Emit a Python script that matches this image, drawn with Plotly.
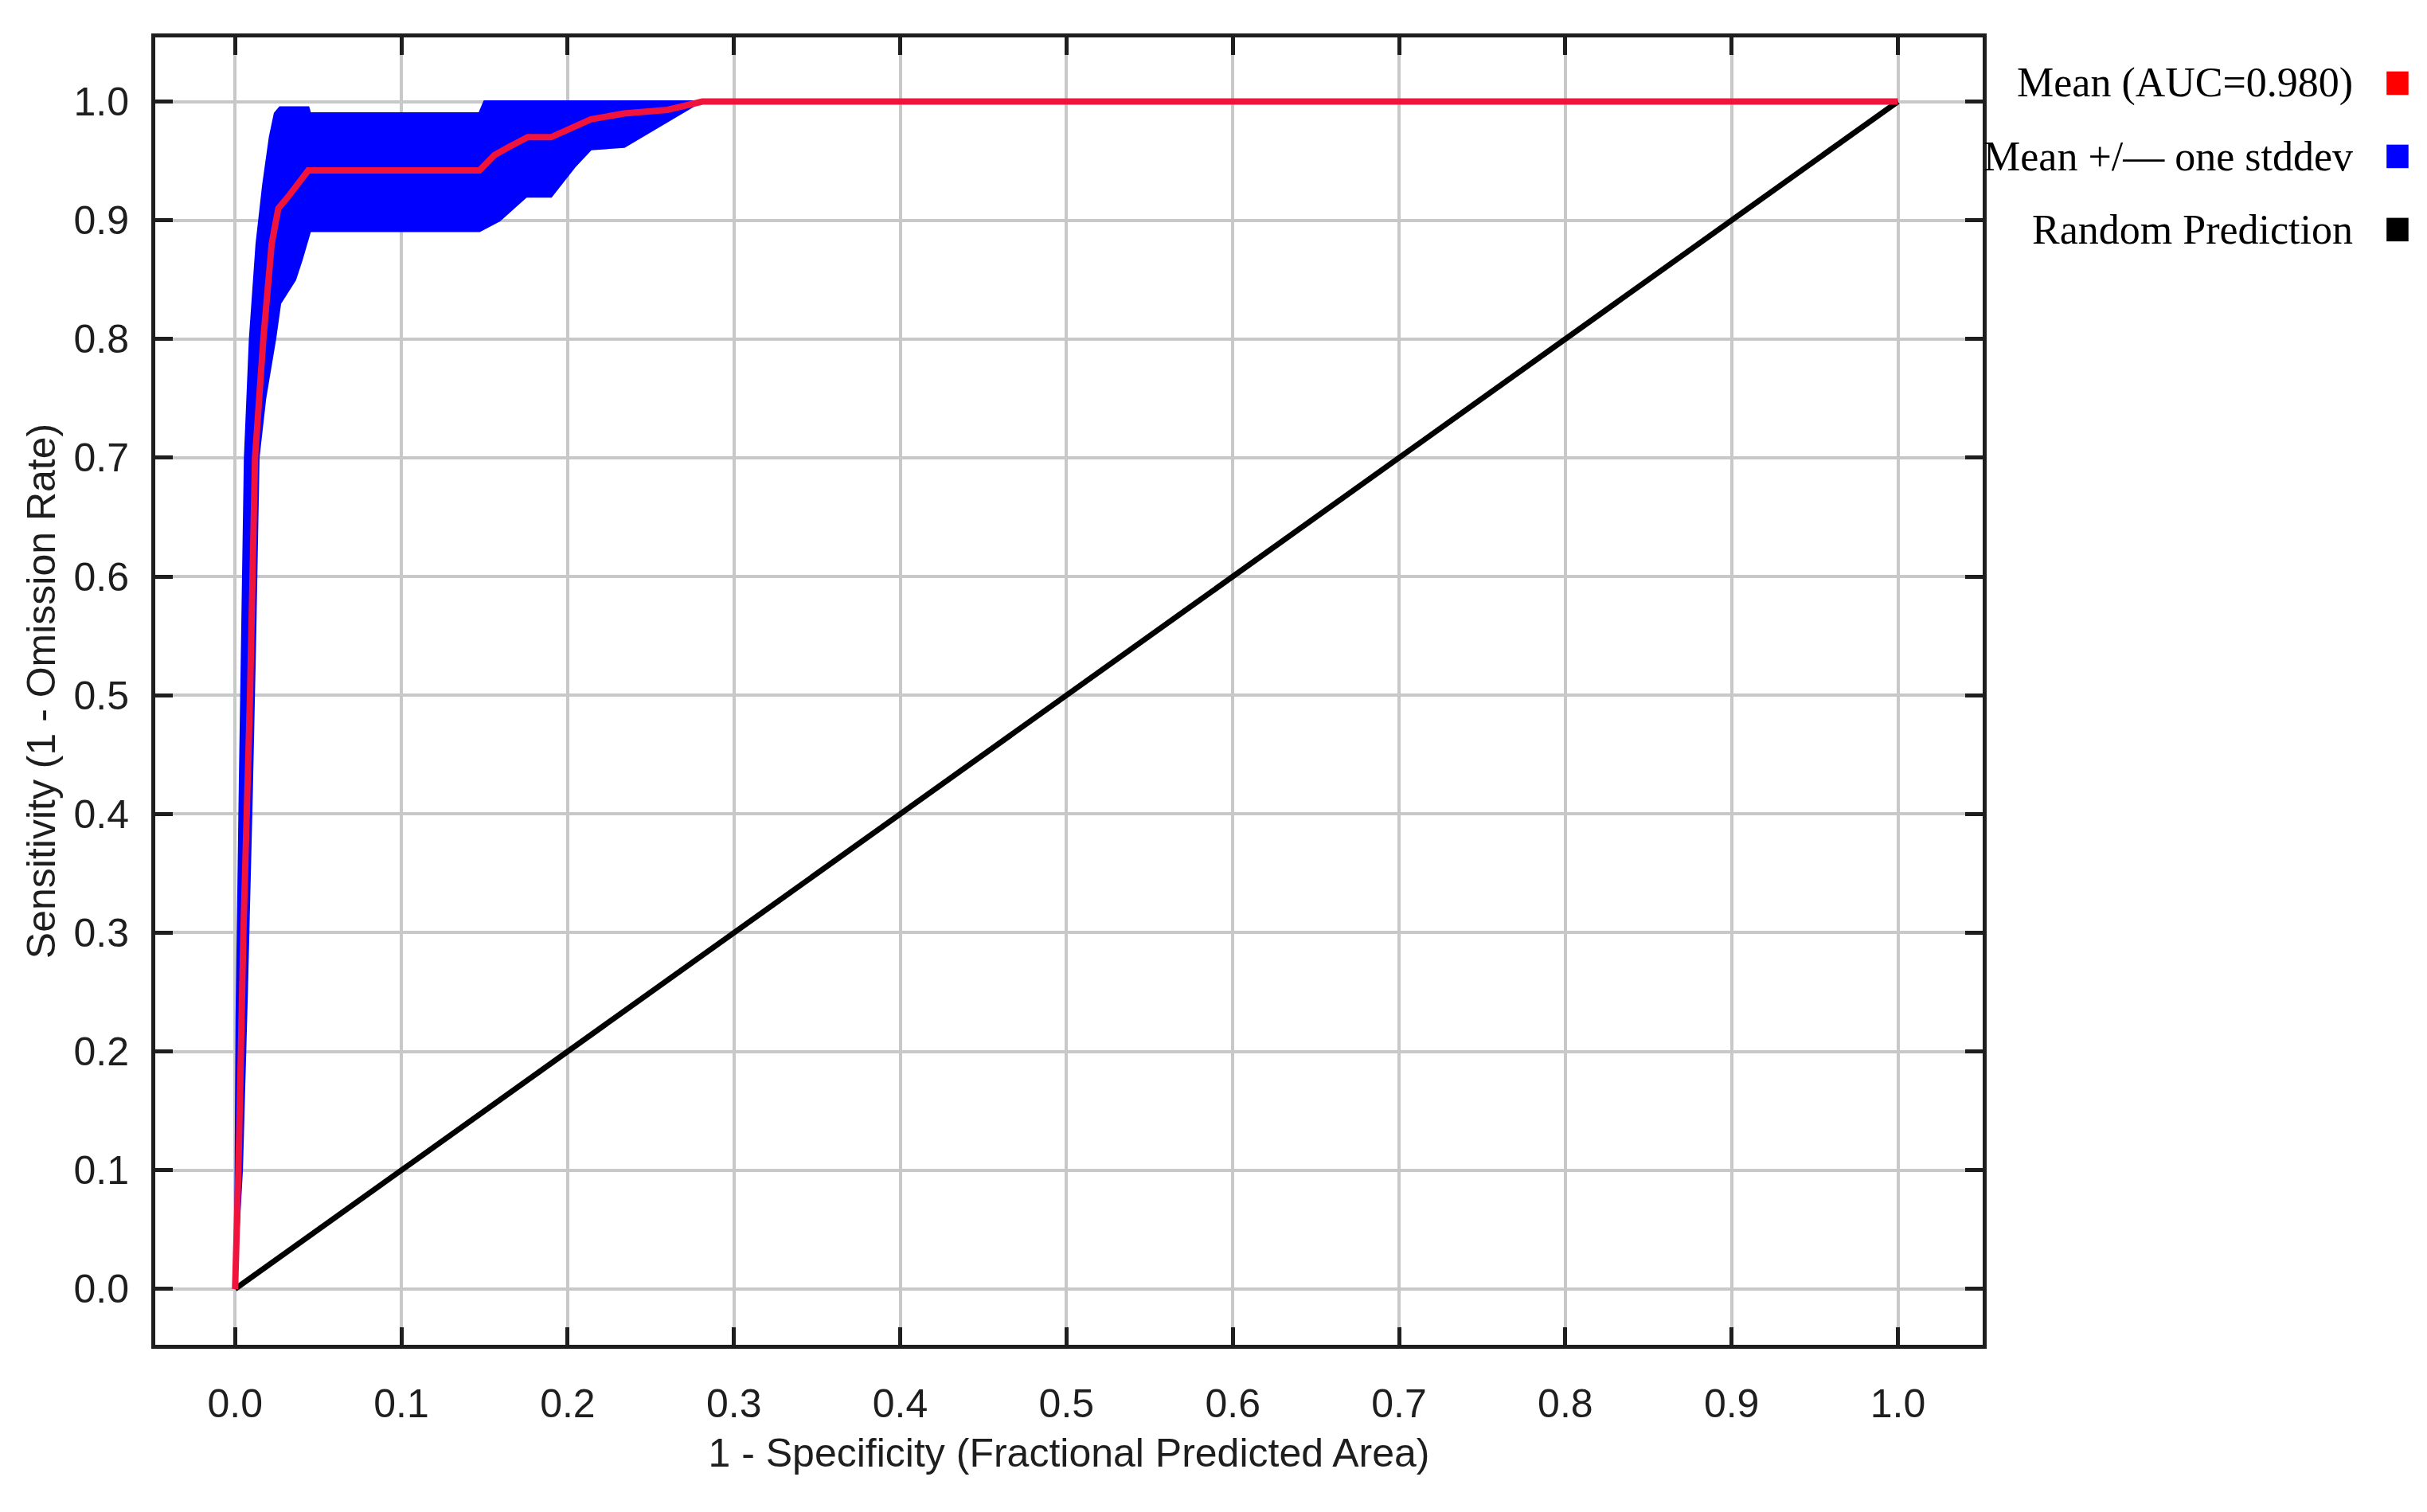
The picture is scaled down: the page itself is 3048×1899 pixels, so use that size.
import plotly.graph_objects as go

mean_x = [0, 0.002, 0.005, 0.009, 0.012, 0.017, 0.022, 0.026, 0.032, 0.038, 0.044, 0.147, 0.156, 0.165, 0.176, 0.19, 0.214, 0.234, 0.26, 0.281, 1.0]
mean_y = [0, 0.1, 0.3, 0.5, 0.7, 0.8, 0.88, 0.91, 0.92, 0.93, 0.942, 0.942, 0.955, 0.962, 0.97, 0.97, 0.985, 0.99, 0.993, 1.0, 1.0]

upper_x = [0, 0.001, 0.003, 0.005, 0.006, 0.009, 0.013, 0.017, 0.021, 0.024, 0.027, 0.044, 0.045, 0.147, 0.150, 1.0]
upper_y = [0, 0.23, 0.43, 0.6, 0.7, 0.8, 0.88, 0.93, 0.97, 0.99, 0.995, 0.995, 0.99, 0.99, 1.0, 1.0]

lower_x = [0, 0.004, 0.007, 0.010, 0.012, 0.014, 0.018, 0.024, 0.027, 0.036, 0.040, 0.045, 0.147, 0.159, 0.175, 0.19, 0.204, 0.214, 0.234, 0.28, 1.0]
lower_y = [0, 0.1, 0.25, 0.42, 0.55, 0.7, 0.75, 0.8, 0.83, 0.85, 0.867, 0.891, 0.891, 0.9, 0.92, 0.92, 0.945, 0.96, 0.962, 1.0, 1.0]

rand_x = [0, 1]
rand_y = [0, 1]

ticks = [round(i * 0.1, 1) for i in range(11)]
tick_text = [f"{t:.1f}" for t in ticks]

legend_labels = ["Mean (AUC=0.980)", "Mean +/\u2014 one stddev", "Random Prediction"]
legend_colors = ["rgb(255,0,0)", "rgb(0,0,255)", "rgb(0,0,0)"]

fig = go.Figure()
fig.add_trace(go.Scatter(x=upper_x + lower_x[::-1], y=upper_y + lower_y[::-1], fill="toself",
                         fillcolor="rgb(0,0,255)", line=dict(color="rgb(0,0,255)", width=3),
                         mode="lines", showlegend=False))
fig.add_trace(go.Scatter(x=rand_x, y=rand_y, mode="lines", line=dict(color="black", width=7), showlegend=False))
fig.add_trace(go.Scatter(x=mean_x, y=mean_y, mode="lines", line=dict(color="rgb(240,20,60)", width=8), showlegend=False))

axis_common = dict(showline=True, linecolor="rgb(30,30,30)", linewidth=5, mirror="ticks",
                   ticks="inside", ticklen=22, tickwidth=5, tickcolor="rgb(30,30,30)",
                   showgrid=True, gridcolor="rgb(200,200,200)", gridwidth=4, zeroline=False,
                   tickvals=ticks, ticktext=tick_text,
                   tickfont=dict(family="Liberation Sans", size=50, color="rgb(30,30,30)"))
fig.update_xaxes(**axis_common, range=[-0.048, 1.051], ticklabelstandoff=26,
                 title=dict(text="1 - Specificity (Fractional Predicted Area)",
                            font=dict(family="Liberation Sans", size=50, color="rgb(30,30,30)"), standoff=18))
fig.update_yaxes(**axis_common, range=[-0.047, 1.054], ticklabelstandoff=18,
                 title=dict(text="Sensitivity (1 - Omission Rate)",
                            font=dict(family="Liberation Sans", size=50, color="rgb(30,30,30)"), standoff=8))

for i, (lab, col) in enumerate(zip(legend_labels, legend_colors)):
    yy = 0.965 - i * 0.056
    fig.add_annotation(xref="paper", yref="paper", x=1.2035, y=yy, text=lab, showarrow=False,
                       xanchor="right", yanchor="middle",
                       font=dict(family="Liberation Serif", size=52, color="black"))
    fig.add_shape(type="rect", xref="paper", yref="paper", x0=1.221, x1=1.233,
                  y0=yy - 0.009, y1=yy + 0.009, fillcolor=col, line=dict(width=0))

fig.update_layout(width=3048, height=1899, margin=dict(l=187, r=566, t=39, b=218),
                  plot_bgcolor="white", paper_bgcolor="white")
fig.write_html("out.html")
